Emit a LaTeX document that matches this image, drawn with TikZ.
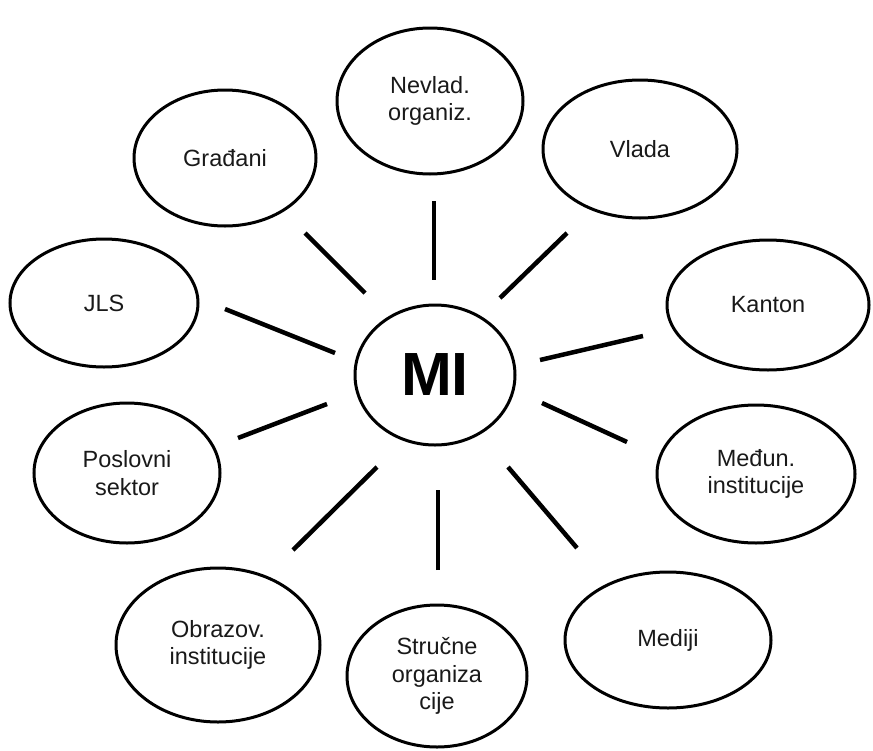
\documentclass[tikz,border=0pt]{standalone}
\usepackage{fontspec}
\setmainfont{Liberation Sans}
\usetikzlibrary{shapes.geometric}

\tikzset{
  bubble/.style={ellipse, draw=black, line width=3pt, inner sep=0pt,
    align=center, font=\fontsize{23.5}{27.5}\selectfont, text=black!90},
  spoke/.style={line width=4.5pt, draw=black},
}

\begin{document}
\begin{tikzpicture}[x=1pt, y=-1pt]
  \useasboundingbox (0,0) rectangle (873,750);

  % central hub
  \node[bubble, minimum width=160pt, minimum height=140pt,
        font=\fontsize{61}{61}\bfseries\selectfont, text=black] (mi) at (435,375) {MI};

  % surrounding partners
  \node[bubble, minimum width=186pt, minimum height=146pt] (nevlad) at (430,101) {Nevlad.\\organiz.};
  \node[bubble, minimum width=194pt, minimum height=138pt] (vlada) at (640,149) {Vlada};
  \node[bubble, minimum width=182pt, minimum height=136pt] (gradjani) at (225,158) {Građani};
  \node[bubble, minimum width=188pt, minimum height=128pt] (jls) at (104,303) {JLS};
  \node[bubble, minimum width=202pt, minimum height=130pt] (kanton) at (768,305) {Kanton};
  \node[bubble, minimum width=186pt, minimum height=140pt] (poslovni) at (127,473) {Poslovni\\sektor};
  \node[bubble, minimum width=198pt, minimum height=138pt] (medjun) at (756,474) {Međun.\\institucije};
  \node[bubble, minimum width=204pt, minimum height=154pt] (obrazov) at (218,645) {Obrazov.\\institucije};
  \node[bubble, minimum width=206pt, minimum height=136pt] (mediji) at (668,640) {Mediji};
  \node[bubble, minimum width=180pt, minimum height=142pt] (strucne) at (437,676) {Stručne\\organiza\\cije};

  % free-standing spoke ends
  \coordinate (nevladA) at (434,201);   \coordinate (nevladB) at (434,280);
  \coordinate (vladaA) at (567,233);    \coordinate (vladaB) at (500,298);
  \coordinate (gradjaniA) at (305,233); \coordinate (gradjaniB) at (365,293);
  \coordinate (jlsA) at (225,309);      \coordinate (jlsB) at (335,353);
  \coordinate (kantonA) at (643,336);   \coordinate (kantonB) at (540,360);
  \coordinate (poslovniA) at (238,438); \coordinate (poslovniB) at (327,404);
  \coordinate (medjunA) at (627,442);   \coordinate (medjunB) at (542,403);
  \coordinate (obrazovA) at (293,550);  \coordinate (obrazovB) at (377,467);
  \coordinate (strucneA) at (438,570);  \coordinate (strucneB) at (438,490);
  \coordinate (medijiA) at (577,548);   \coordinate (medijiB) at (508,467);

  % spokes
  \foreach \n in {nevlad,vlada,gradjani,jls,kanton,poslovni,medjun,obrazov,strucne,mediji}
    \draw[spoke] (\n A) -- (\n B);
\end{tikzpicture}
\end{document}
